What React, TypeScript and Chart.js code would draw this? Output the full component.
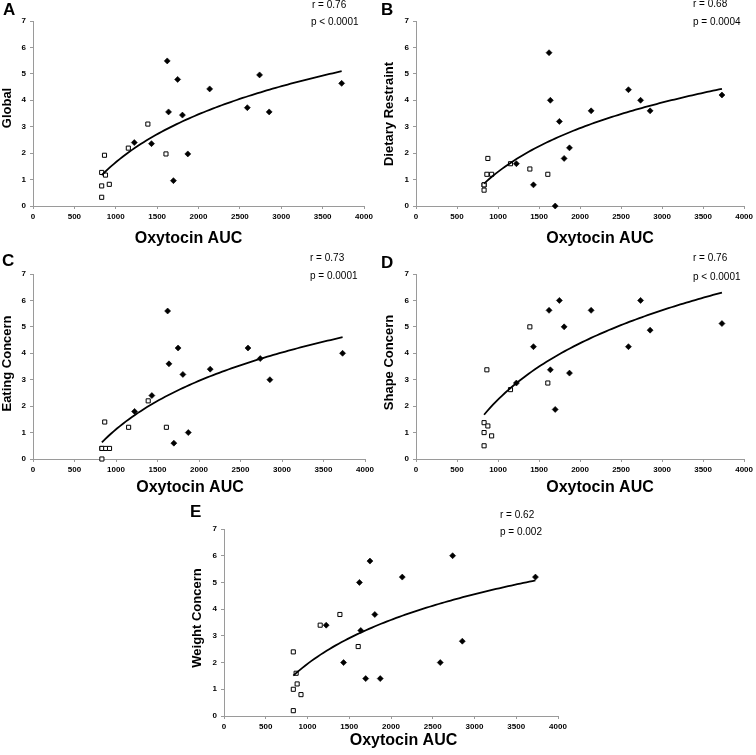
import React, { useEffect, useRef } from "react";
import { Chart, registerables } from "chart.js";

Chart.register(...registerables);

// ---------- DATA ----------
const xTickStep = 500;
const xMin = 0;
const xMax = 4000;
const yMin = 0;
const yMax = 7;

// Oxytocin AUC of control subjects (open squares) and patients (filled diamonds)
const controlAUC = [830, 830, 830, 864, 876, 922, 1152, 1388, 1607];
const patientAUC = [1224, 1432, 1622, 1638, 1697, 1748, 1806, 1871, 2135, 2590, 2738, 2854, 3730];

const globalControl = [0.33, 0.76, 1.27, 1.92, 1.17, 0.82, 2.19, 3.1, 1.97];
const globalPatient = [2.4, 2.36, 5.49, 3.56, 0.96, 4.79, 3.44, 1.97, 4.43, 3.72, 4.96, 3.56, 4.64];

const restraintControl = [0.6, 0.8, 0.8, 1.2, 1.8, 1.2, 1.6, 1.4, 1.2];
const restraintPatient = [1.6, 0.8, 5.8, 4.0, 0, 3.2, 1.8, 2.2, 3.6, 4.4, 4.0, 3.6, 4.2];

const eatingControl = [0, 0.4, 0.4, 1.4, 0.4, 0.4, 1.2, 2.2, 1.2];
const eatingPatient = [1.8, 2.4, 5.6, 3.6, 0.6, 4.2, 3.2, 1.0, 3.4, 4.2, 3.8, 3.0, 4.0];

const shapeControl = [0.5, 1.0, 1.375, 3.375, 1.25, 0.875, 2.625, 5.0, 2.875];
const shapePatient = [2.875, 4.25, 5.625, 3.375, 1.875, 6.0, 5.0, 3.25, 5.625, 4.25, 6.0, 4.875, 5.125];

const weightControl = [0.2, 1.0, 2.4, 1.6, 1.2, 0.8, 3.4, 3.8, 2.6];
const weightPatient = [3.4, 2.0, 5.0, 3.2, 1.4, 5.8, 3.8, 1.4, 5.2, 2.0, 6.0, 2.8, 5.2];

const panelLetters = ["A", "B", "C", "D", "E"];
const yTitles = ["Global", "Dietary Restraint", "Eating Concern", "Shape Concern", "Weight Concern"];
const xTitle = "Oxytocin AUC";
const rTexts = ["r = 0.76", "r = 0.68", "r = 0.73", "r = 0.76", "r = 0.62"];
const pTexts = ["p < 0.0001", "p = 0.0004", "p = 0.0001", "p < 0.0001", "p = 0.002"];

const controlSeries = [globalControl, restraintControl, eatingControl, shapeControl, weightControl];
const patientSeries = [globalPatient, restraintPatient, eatingPatient, shapePatient, weightPatient];

// ---------- LAYOUT (page coordinates) ----------
type Box = { x: number; y: number; w: number; h: number };
type Plot = { L: number; R: number; T: number; B: number };
type Layout = {
  canvas: Box;
  plot: Plot;
  letter: [number, number];
  r: [number, number];
  p: [number, number];
  xt: [number, number];
  yt: [number, number];
};

const layouts: Layout[] = [
  { canvas: { x: 0, y: 0, w: 378, h: 250 }, plot: { L: 33, R: 364, T: 21, B: 206 }, letter: [3, 15], r: [312, 5], p: [311, 22], xt: [188.5, 239], yt: [7.5, 108] },
  { canvas: { x: 378, y: 0, w: 378, h: 250 }, plot: { L: 416, R: 747, T: 21, B: 206 }, letter: [381, 15], r: [693, 4], p: [693, 22], xt: [600, 239], yt: [389, 114] },
  { canvas: { x: 0, y: 250, w: 378, h: 250 }, plot: { L: 33, R: 365, T: 274, B: 459 }, letter: [2, 266], r: [310, 258], p: [310, 276], xt: [190, 488], yt: [7.5, 363.5] },
  { canvas: { x: 378, y: 250, w: 378, h: 250 }, plot: { L: 416, R: 747, T: 274, B: 459 }, letter: [381, 268], r: [693, 258], p: [693, 277], xt: [600, 488], yt: [389, 362.5] },
  { canvas: { x: 180, y: 500, w: 400, h: 255 }, plot: { L: 224, R: 558, T: 529, B: 716 }, letter: [190, 517], r: [500, 515], p: [500, 532], xt: [403.5, 741], yt: [197.5, 618] },
];

const FONT = "'Liberation Sans', Arial, Helvetica, sans-serif";
const AXIS_GREY = "#9a9a9a";

// logarithmic least-squares trendline (y = a ln x + b) from the plotted points
function logTrend(xs: number[], ys: number[]) {
  const n = xs.length;
  const lx = xs.map((v) => Math.log(v));
  const mx = lx.reduce((s, v) => s + v, 0) / n;
  const my = ys.reduce((s, v) => s + v, 0) / n;
  let sxy = 0;
  let sxx = 0;
  for (let i = 0; i < n; i++) {
    sxy += (lx[i] - mx) * (ys[i] - my);
    sxx += (lx[i] - mx) * (lx[i] - mx);
  }
  const a = sxy / sxx;
  const b = my - a * mx;
  const lo = Math.min(...xs);
  const hi = Math.max(...xs);
  const pts: { x: number; y: number }[] = [];
  const steps = 80;
  for (let i = 0; i <= steps; i++) {
    const x = lo + ((hi - lo) * i) / steps;
    pts.push({ x, y: a * Math.log(x) + b });
  }
  return pts;
}

const textPlugin = {
  id: "panelText",
  afterDraw(chart: any) {
    const o = chart.options.plugins.panelText;
    if (!o) return;
    const { ctx } = chart;
    const ox = o.ox;
    const oy = o.oy;
    ctx.save();
    ctx.fillStyle = "#000";
    // panel letter
    ctx.font = `bold 17px ${FONT}`;
    ctx.textAlign = "left";
    ctx.textBaseline = "alphabetic";
    ctx.fillText(o.letter, o.lt[0] - ox, o.lt[1] - oy);
    // stats
    ctx.font = `10px ${FONT}`;
    ctx.textBaseline = "middle";
    ctx.fillText(o.r, o.rp[0] - ox, o.rp[1] - oy);
    ctx.fillText(o.p, o.pp[0] - ox, o.pp[1] - oy);
    // x title
    ctx.font = `bold 16px ${FONT}`;
    ctx.textAlign = "center";
    ctx.fillText(o.xt, o.xtp[0] - ox, o.xtp[1] - oy);
    // y title
    ctx.font = `bold 13px ${FONT}`;
    ctx.translate(o.ytp[0] - ox, o.ytp[1] - oy);
    ctx.rotate(-Math.PI / 2);
    ctx.fillText(o.yt, 0, 0);
    ctx.restore();
  },
};

function Panel({ idx }: { idx: number }) {
  const ref = useRef<HTMLCanvasElement | null>(null);
  const lay = layouts[idx];
  useEffect(() => {
    if (!ref.current) return;
    const cy = controlSeries[idx];
    const py = patientSeries[idx];
    const ctrl = controlAUC.map((x, i) => ({ x, y: cy[i] }));
    const pat = patientAUC.map((x, i) => ({ x, y: py[i] }));
    const trend = logTrend([...controlAUC, ...patientAUC], [...cy, ...py]);
    const { canvas, plot } = lay;
    const yAxisW = plot.L - canvas.x;
    const xAxisH = canvas.y + canvas.h - plot.B;
    const chart = new Chart(ref.current, {
      type: "scatter",
      data: {
        datasets: [
          {
            label: "trend",
            data: trend,
            showLine: true,
            borderColor: "#000",
            borderWidth: 1.8,
            pointRadius: 0,
            tension: 0,
            clip: false as any,
          },
          {
            label: "controls",
            data: ctrl,
            pointStyle: "rect",
            pointRadius: 2.9,
            backgroundColor: "#fff",
            borderColor: "#000",
            borderWidth: 1,
            clip: false as any,
          },
          {
            label: "patients",
            data: pat,
            pointStyle: "rectRot",
            pointRadius: 3,
            backgroundColor: "#000",
            borderColor: "#000",
            borderWidth: 0.6,
            clip: false as any,
          },
        ],
      },
      options: {
        animation: false,
        responsive: false,
        devicePixelRatio: 1,
        events: [],
        layout: {
          padding: {
            left: 0,
            top: plot.T - canvas.y,
            right: canvas.x + canvas.w - plot.R,
            bottom: 0,
          },
        },
        plugins: {
          legend: { display: false },
          tooltip: { enabled: false },
          panelText: {
            ox: canvas.x,
            oy: canvas.y,
            letter: panelLetters[idx],
            lt: lay.letter,
            r: rTexts[idx],
            rp: lay.r,
            p: pTexts[idx],
            pp: lay.p,
            xt: xTitle,
            xtp: lay.xt,
            yt: yTitles[idx],
            ytp: lay.yt,
          },
        } as any,
        scales: {
          x: {
            type: "linear",
            min: xMin,
            max: xMax,
            afterFit: (s: any) => {
              s.height = xAxisH;
            },
            ticks: {
              stepSize: xTickStep,
              autoSkip: false,
              maxRotation: 0,
              padding: 3,
              color: "#000",
              font: { family: FONT, size: 8, weight: "bold" },
              callback: (v: any) => String(v),
            },
            grid: {
              drawOnChartArea: false,
              drawTicks: true,
              tickLength: 3,
              color: AXIS_GREY,
            },
            border: { display: true, color: AXIS_GREY, width: 1 },
          },
          y: {
            type: "linear",
            min: yMin,
            max: yMax,
            afterFit: (s: any) => {
              s.width = yAxisW;
            },
            ticks: {
              stepSize: 1,
              padding: 4,
              color: "#000",
              font: { family: FONT, size: 8, weight: "bold" },
              callback: (v: any) => String(v),
            },
            grid: {
              drawOnChartArea: false,
              drawTicks: true,
              tickLength: 3,
              color: AXIS_GREY,
            },
            border: { display: true, color: AXIS_GREY, width: 1 },
          },
        },
      },
      plugins: [textPlugin],
    } as any);
    return () => chart.destroy();
  }, [idx]);
  return (
    <canvas
      ref={ref}
      width={lay.canvas.w}
      height={lay.canvas.h}
      style={{
        position: "absolute",
        left: lay.canvas.x,
        top: lay.canvas.y,
        width: lay.canvas.w,
        height: lay.canvas.h,
      }}
    />
  );
}

export default function App() {
  return (
    <div
      style={{
        position: "fixed",
        left: 0,
        top: 0,
        width: 756,
        height: 755,
        background: "#fff",
        overflow: "hidden",
      }}
    >
      {panelLetters.map((_, i) => (
        <Panel key={i} idx={i} />
      ))}
    </div>
  );
}
